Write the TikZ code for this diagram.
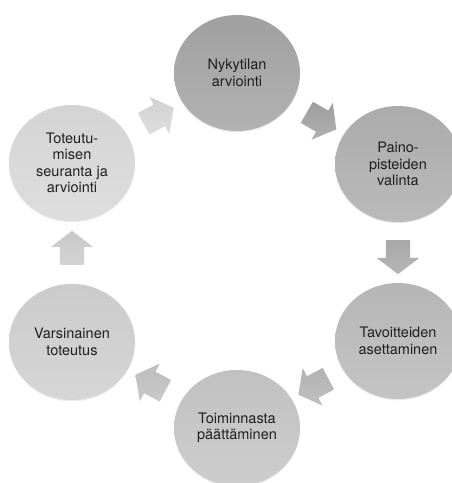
\documentclass[tikz,border=0pt]{standalone}
\usepackage{fontspec}
\setmainfont{TeX Gyre Heros}
\usetikzlibrary{calc,shapes.geometric,shapes.arrows,shadows}

\begin{document}
\begin{tikzpicture}[x=1pt, y=-1pt,
  stage/.style={ellipse, minimum width=126pt, minimum height=116pt, inner sep=0pt,
    align=center, text=black!88, font=\fontsize{14.5}{16.5}\selectfont,
    drop shadow={shadow xshift=0pt, shadow yshift=-1.2pt, opacity=.18}},
  blk/.style={single arrow, minimum height=34pt, inner xsep=0pt, inner ysep=12pt,
    single arrow head extend=9pt, single arrow tip angle=105}]

  %% ════ 圆（六个阶段，顺时针）════
  \node[stage, top color={rgb,255:red,160;green,160;blue,160}, bottom color={rgb,255:red,178;green,178;blue,178}] (nyky) at (237,73) {Nykytilan\\arviointi};
  \node[stage, top color={rgb,255:red,171;green,171;blue,171}, bottom color={rgb,255:red,186;green,186;blue,186}] (paino) at (398,164) {Paino-\\pisteiden\\valinta};
  \node[stage, top color={rgb,255:red,182;green,182;blue,182}, bottom color={rgb,255:red,196;green,196;blue,196}] (tavo) at (398,341) {Tavoitteiden\\asettaminen};
  \node[stage, top color={rgb,255:red,193;green,193;blue,193}, bottom color={rgb,255:red,205;green,205;blue,205}] (toim) at (237,428) {Toiminnasta\\päättäminen};
  \node[stage, top color={rgb,255:red,203;green,203;blue,203}, bottom color={rgb,255:red,214;green,214;blue,214}] (vars) at (72,342) {Varsinainen\\toteutus};
  \node[stage, top color={rgb,255:red,212;green,212;blue,212}, bottom color={rgb,255:red,222;green,222;blue,222}] (seur) at (72,163) {Toteutu-\\misen\\seuranta ja\\arviointi};

  %% ════ 块箭头（放在两圆中点，按弦方向转）════
  \node[blk, rotate=-30, top color={rgb,255:red,158;green,158;blue,158}, bottom color={rgb,255:red,176;green,176;blue,176}] (a1) at ($(nyky)!0.5!(paino)$) {};
  \node[blk, rotate=-90, top color={rgb,255:red,168;green,168;blue,168}, bottom color={rgb,255:red,182;green,182;blue,182}] (a2) at ($(paino)!0.5!(tavo)$) {};
  \node[blk, rotate=-152, top color={rgb,255:red,178;green,178;blue,178}, bottom color={rgb,255:red,192;green,192;blue,192}] (a3) at ($(tavo)!0.5!(toim)$) {};
  \node[blk, rotate=152, top color={rgb,255:red,189;green,189;blue,189}, bottom color={rgb,255:red,201;green,201;blue,201}] (a4) at ($(toim)!0.5!(vars)$) {};
  \node[blk, rotate=90, top color={rgb,255:red,200;green,200;blue,200}, bottom color={rgb,255:red,211;green,211;blue,211}] (a5) at ($(vars)!0.5!(seur)$) {};
  \node[blk, rotate=28, top color={rgb,255:red,210;green,210;blue,210}, bottom color={rgb,255:red,221;green,221;blue,221}] (a6) at ($(seur)!0.5!(nyky)$) {};

  % 钉死画布
  \pgfresetboundingbox
  \path[use as bounding box] (0,0) rectangle (452,483);
\end{tikzpicture}
\end{document}
